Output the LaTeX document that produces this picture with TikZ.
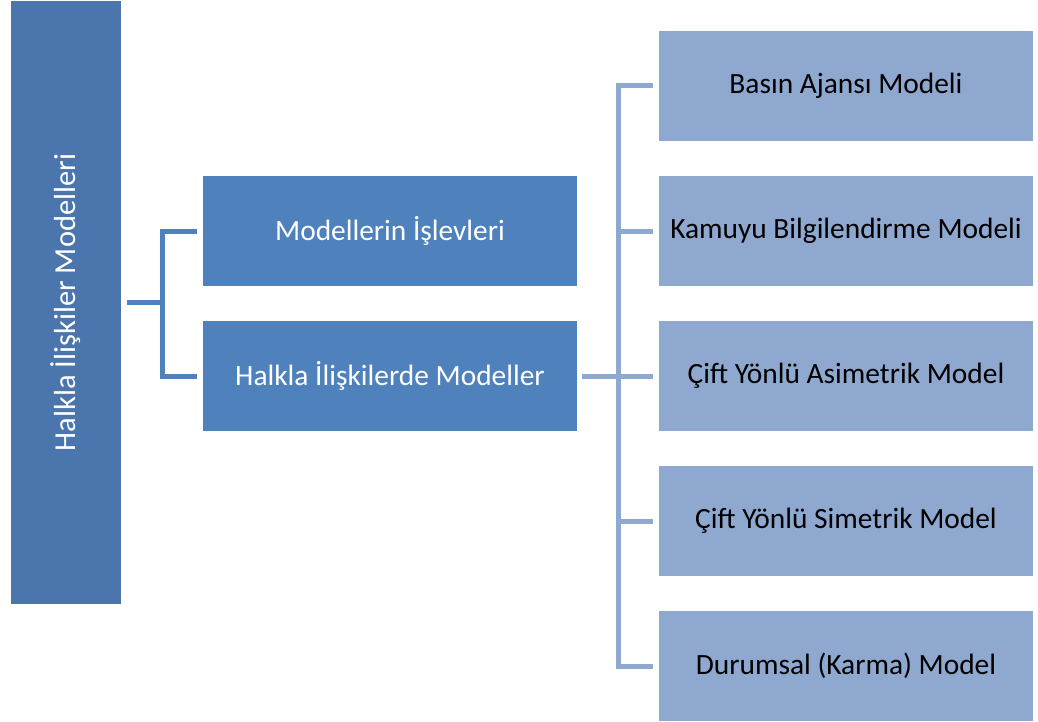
\documentclass[tikz,border=0pt]{standalone}
\usepackage{fontspec}
\setmainfont{Carlito}
\definecolor{rootblue}{HTML}{4A75AD}
\definecolor{midblue}{HTML}{4F81BD}
\definecolor{leafblue}{HTML}{8EA8CF}
\begin{document}
\begin{tikzpicture}[x=1pt,y=-1pt,
  box/.style={anchor=north west,inner sep=0pt,outer sep=0pt,font=\fontsize{29.4}{34}\selectfont},
  midbox/.style={box,fill=midblue,text=white,minimum width=374pt,minimum height=110pt},
  leafbox/.style={box,fill=leafblue,text=black,minimum width=374pt,minimum height=110pt},
  midlink/.style={draw=midblue,line width=5pt},
  leaflink/.style={draw=leafblue,line width=5pt}]
\useasboundingbox (0,0) rectangle (1038,722);
% root
\node[box,fill=rootblue,minimum width=110pt,minimum height=603pt] (root) at (11,1) {};
\node[text=white,rotate=90,font=\fontsize{30.5}{35}\selectfont] (roottext) at (root.center) {Halkla İlişkiler Modelleri};
% second level
\node[midbox] (m1) at (203,176) {Modellerin İşlevleri};
\node[midbox] (m2) at (203,321) {Halkla İlişkilerde Modeller};
% third level
\node[leafbox] (l1) at (659,31) {Basın Ajansı Modeli};
\node[leafbox] (l2) at (659,176) {Kamuyu Bilgilendirme Modeli};
\node[leafbox] (l3) at (659,321) {Çift Yönlü Asimetrik Model};
\node[leafbox] (l4) at (659,466) {Çift Yönlü Simetrik Model};
\node[leafbox] (l5) at (659,611) {Durumsal (Karma) Model};
% bracket from root to second level
\coordinate (rj) at (162,302.5);
\draw[midlink] ([xshift=6pt]root.east|-rj) -- (rj);
\draw[midlink,line join=miter] ([xshift=-6pt]m1.west) -| (rj) |- ([xshift=-6pt]m2.west);
% bracket from second level to third level
\coordinate (lj) at (618,376);
\draw[leaflink] ([xshift=5pt]m2.east) -- ([xshift=-6pt]l3.west);
\draw[leaflink,line join=miter] ([xshift=-6pt]l1.west) -| (lj) |- ([xshift=-6pt]l5.west);
\draw[leaflink] (lj|-l2.west) -- ([xshift=-6pt]l2.west);
\draw[leaflink] (lj|-l4.west) -- ([xshift=-6pt]l4.west);
\end{tikzpicture}
\end{document}
